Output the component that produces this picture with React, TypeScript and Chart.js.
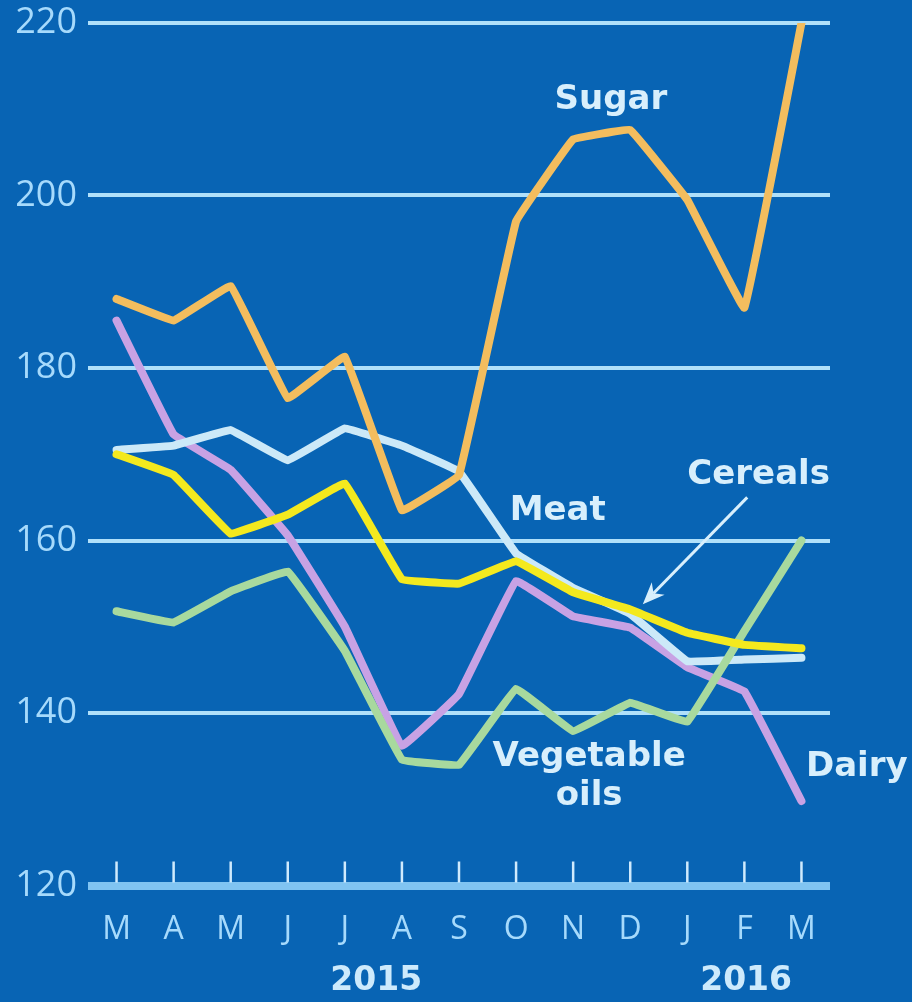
import { useEffect, useRef } from "react";
import { Chart, registerables } from "chart.js";

Chart.register(...registerables);

// ---- data ----
const months = ["M", "A", "M", "J", "J", "A", "S", "O", "N", "D", "J", "F", "M"];
const sugar = [188, 185.5, 189.5, 176.5, 181.3, 163.5, 167.6, 197, 206.5, 207.6, 199.5, 187, 220];
const cereals = [170, 167.6, 160.8, 163, 166.6, 155.5, 155, 157.6, 154, 152, 149.3, 147.9, 147.5];
const vegetableOils = [151.8, 150.5, 154.1, 156.4, 147.2, 134.6, 134, 142.8, 137.9, 141.2, 139, 149.5, 160];
const meat = [170.5, 171, 172.8, 169.3, 173, 171, 168, 158.5, 154.5, 151.5, 146, 146.2, 146.4];
const dairy = [185.5, 172.3, 168.2, 160.6, 150, 136.2, 142.2, 155.3, 151.2, 149.9, 145.3, 142.5, 129.8];

const yMin = 120;
const yMax = 220;
const yStep = 20;

// year labels, placed at (fractional) month index
const yearLabels = [
  { text: "2015", at: 4.55 },
  { text: "2016", at: 11.03 },
];

// series annotations in data coordinates (month index, value)
const seriesLabels = [
  { text: "Sugar", at: 8.66, value: 211.1 },
  { text: "Meat", at: 7.73, value: 163.4 },
  { text: "Cereals", at: 11.25, value: 167.6 },
  { text: "Vegetable", at: 8.28, value: 134.9 },
  { text: "oils", at: 8.28, value: 130.3 },
  { text: "Dairy", at: 12.97, value: 133.7 },
];

// arrow from the "Cereals" label to its line (month index, value)
const cerealsArrow = { from: { at: 11.05, value: 165.0 }, to: { at: 9.22, value: 152.6 } };

// ---- styles ----
const BG = "#0864b4";
const GRID = "#b0e0fa";
const AXIS = "#80c4f2";
const TICK_TEXT = "#a6dafc";
const LABEL_TEXT = "#d8effc";

const overlayPlugin = {
  id: "overlay",
  beforeDatasetsDraw(chart: any) {
    const { ctx, scales } = chart;
    const x = scales.x;
    const y = scales.y;
    const base = y.getPixelForValue(yMin);
    ctx.save();
    ctx.strokeStyle = "#cfeafd";
    ctx.lineWidth = 2.5;
    months.forEach((_, i) => {
      const px = x.getPixelForTick(i);
      ctx.beginPath();
      ctx.moveTo(px, base - 3);
      ctx.lineTo(px, base - 24);
      ctx.stroke();
    });
    ctx.restore();
  },
  afterDraw(chart: any) {
    const { ctx, scales } = chart;
    const x = scales.x;
    const y = scales.y;
    ctx.save();
    // year labels
    ctx.fillStyle = "#cdeafc";
    ctx.font = "bold 33px 'DejaVu Sans'";
    ctx.textAlign = "center";
    ctx.textBaseline = "middle";
    yearLabels.forEach((l) => {
      ctx.fillText(l.text, x.getPixelForValue(l.at), 981);
    });
    // series labels
    ctx.fillStyle = LABEL_TEXT;
    ctx.font = "bold 34px 'DejaVu Sans'";
    seriesLabels.forEach((l) => {
      ctx.fillText(l.text, x.getPixelForValue(l.at), y.getPixelForValue(l.value));
    });
    // arrow
    const x1 = x.getPixelForValue(cerealsArrow.from.at);
    const y1 = y.getPixelForValue(cerealsArrow.from.value);
    const x2 = x.getPixelForValue(cerealsArrow.to.at);
    const y2 = y.getPixelForValue(cerealsArrow.to.value);
    const ang = Math.atan2(y2 - y1, x2 - x1);
    const headLen = 22;
    const headW = 9;
    ctx.strokeStyle = LABEL_TEXT;
    ctx.lineWidth = 3;
    ctx.beginPath();
    ctx.moveTo(x1, y1);
    ctx.lineTo(x2 - Math.cos(ang) * headLen * 0.7, y2 - Math.sin(ang) * headLen * 0.7);
    ctx.stroke();
    ctx.beginPath();
    ctx.moveTo(x2, y2);
    ctx.lineTo(
      x2 - Math.cos(ang) * headLen + Math.sin(ang) * headW,
      y2 - Math.sin(ang) * headLen - Math.cos(ang) * headW
    );
    ctx.lineTo(x2 - Math.cos(ang) * headLen * 0.7, y2 - Math.sin(ang) * headLen * 0.7);
    ctx.lineTo(
      x2 - Math.cos(ang) * headLen - Math.sin(ang) * headW,
      y2 - Math.sin(ang) * headLen + Math.cos(ang) * headW
    );
    ctx.closePath();
    ctx.fillStyle = LABEL_TEXT;
    ctx.fill();
    ctx.restore();
  },
};

function lineDs(label: string, data: number[], color: string) {
  return {
    label,
    data,
    borderColor: color,
    backgroundColor: color,
    borderWidth: 8,
    pointRadius: 0,
    tension: 0.05,
    borderJoinStyle: "round" as const,
    borderCapStyle: "round" as const,
    fill: false,
  };
}

export default function App() {
  const ref = useRef<HTMLCanvasElement>(null);
  useEffect(() => {
    document.body.style.margin = "0";
    document.body.style.background = BG;
    const chart = new Chart(ref.current!, {
      type: "line",
      data: {
        labels: months,
        datasets: [
          lineDs("Sugar", sugar, "#f3bd5e"),
          lineDs("Cereals", cereals, "#f4e91e"),
          lineDs("Vegetable oils", vegetableOils, "#a8d99e"),
          lineDs("Meat", meat, "#cce9f8"),
          lineDs("Dairy", dairy, "#c8a2e4"),
        ],
      },
      options: {
        responsive: false,
        animation: false,
        layout: { padding: { top: 23, right: 82, left: 0, bottom: 0 } },
        plugins: { legend: { display: false }, tooltip: { enabled: false } },
        scales: {
          x: {
            type: "category",
            offset: true,
            grid: { display: false, drawTicks: false },
            border: { display: false },
            ticks: {
              color: TICK_TEXT,
              font: { family: "'Open Sans'", size: 32 },
              padding: 25,
              maxRotation: 0,
              autoSkip: false,
            },
            afterFit: (s: any) => {
              s.height = 116.5;
              s.paddingLeft = 0;
              s.paddingRight = 0;
            },
          },
          y: {
            min: yMin,
            max: yMax,
            ticks: {
              stepSize: yStep,
              color: TICK_TEXT,
              font: { family: "'Open Sans'", size: 36 },
              padding: 11,
            },
            grid: {
              drawTicks: false,
              color: (c: any) => (c.tick && c.tick.value === yMin ? AXIS : GRID),
              lineWidth: (c: any) => (c.tick && c.tick.value === yMin ? 8 : 4),
            },
            border: { display: false },
            afterFit: (s: any) => {
              s.width = 88;
              s.paddingTop = 0;
              s.paddingBottom = 0;
            },
          },
        },
      },
      plugins: [overlayPlugin],
    });
    return () => chart.destroy();
  }, []);
  return (
    <div style={{ width: 912, height: 1002, background: BG, position: "relative" }}>
      <canvas ref={ref} width={912} height={1002} />
    </div>
  );
}
